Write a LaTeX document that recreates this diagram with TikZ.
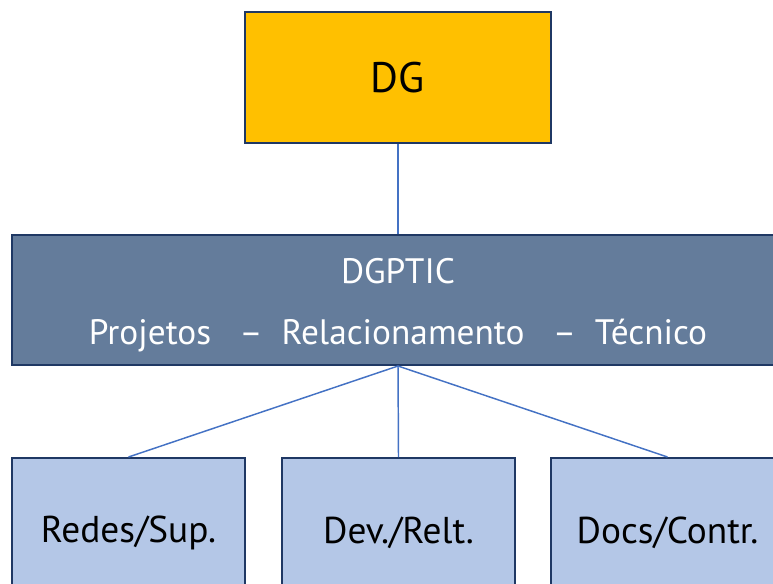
\documentclass[tikz,border=0pt]{standalone}
\usepackage{fontspec}
\setmainfont{PT Sans}
\usepackage{xcolor}
\usetikzlibrary{positioning}

\definecolor{dgfill}{HTML}{FFC000}
\definecolor{midfill}{HTML}{647C9B}
\definecolor{subfill}{HTML}{B4C7E7}
\definecolor{edge}{HTML}{1F3864}
\definecolor{link}{HTML}{4472C4}

\begin{document}
\begin{tikzpicture}[
    x=0.75pt, y=-0.75pt,
    topbox/.style={rectangle, draw=edge, fill=dgfill, line width=1.5pt, minimum width=229.5pt, minimum height=98.25pt, font=\fontsize{32}{36}\selectfont},
    midbox/.style={rectangle, draw=edge, fill=midfill, line width=1.5pt, minimum width=579pt, minimum height=97.5pt, align=center, text=white, font=\fontsize{26.5}{46}\selectfont},
    subbox/.style={rectangle, draw=edge, fill=subfill, line width=1.5pt, minimum width=174.75pt, minimum height=112.5pt, font=\fontsize{28}{32}\selectfont},
    conn/.style={draw=link, line width=1.1pt}
]
    \useasboundingbox (0,0) rectangle (773,583);
    \clip (0,0) rectangle (773,583);

    % Row 1: top of the chart
    \node (dg) at (398, 77.5) [topbox] {DG};

    % Row 2: directorate with its three areas (strut pushes the text down a bit)
    \node (dgptic) at (398, 300) [midbox] {\rule{0pt}{27pt}DGPTIC\\Projetos \ \ -- \ Relacionamento \ \ -- \ Técnico};

    % Row 3: units (boxes run past the bottom edge)
    \node (redes) at (128.5, 533) [subbox] {Redes/Sup.};
    \node (dev) at (398.5, 533) [subbox] {Dev./Relt.};
    \node (docs) at (667.5, 533) [subbox] {Docs/Contr.};

    % Connectors
    \draw [conn] (dg.south) -- (dgptic.north);
    \draw [conn] (dgptic.south) -- (redes.north);
    \draw [conn] (dgptic.south) -- (dev.north);
    \draw [conn] (dgptic.south) -- (docs.north);

\end{tikzpicture}
\end{document}
